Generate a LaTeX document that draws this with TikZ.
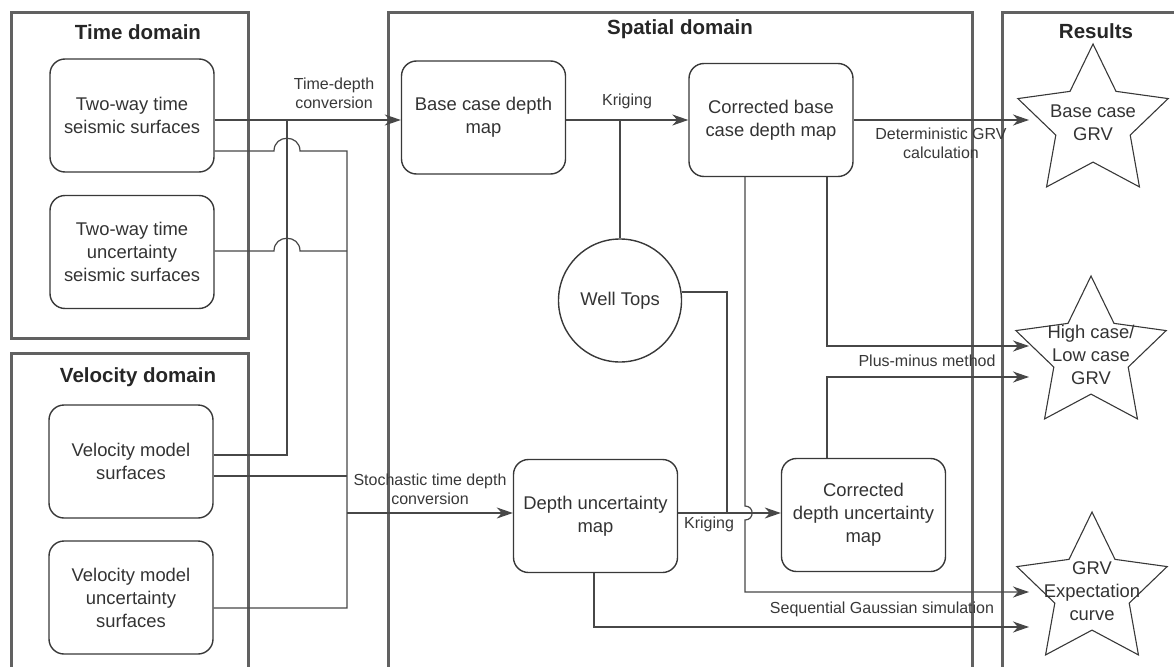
\documentclass[tikz,border=0pt]{standalone}
\usepackage{fontspec}
\setmainfont{Liberation Sans}
\usetikzlibrary{arrows.meta}
\usetikzlibrary{shapes.geometric}

\begin{document}
\begin{tikzpicture}[
			     x=1pt, y=-1pt,
			     domainbox/.style={draw=black!62, line width=3pt},
			     title/.style={font=\bfseries\fontsize{20.5}{24}\selectfont, text=black!85},
			     proc/.style={draw=black!78, line width=1.4pt, rounded corners=15pt, minimum width=164pt, minimum height=113pt, align=center, inner sep=2pt, text=black!80, font=\fontsize{18.4}{23}\selectfont},
			     well/.style={circle, draw=black!78, line width=1.4pt, minimum size=123pt, inner sep=0pt, text=black!80, font=\fontsize{18.4}{23}\selectfont},
			     result/.style={star, star points=5, star point ratio=2.02, draw=black!78, line width=1.1pt, minimum size=158pt, inner sep=0pt},
			     restext/.style={align=center, inner sep=0pt, text=black!80, font=\fontsize{18.4}{23}\selectfont},
			     lbl/.style={align=center, inner sep=0pt, text=black!78, font=\fontsize{16}{19}\selectfont},
			     link/.style={draw=black!72, line width=1.2pt},
			     arr/.style={link, -{Stealth[length=16pt, width=11pt, inset=5pt]}}
			     ]
\useasboundingbox (0,0) rectangle (1174,666);
% domains
\draw[domainbox] (11,13) rectangle (248,338);
\draw[domainbox] (11,353) rectangle (248,690);
\draw[domainbox] (388,13) rectangle (972,690);
\draw[domainbox] (1002,13) rectangle (1190,690);
\node[title] (ttime) at (138,32) {Time domain};
\node[title] (tvel) at (138,377) {Velocity domain};
\node[title] (tspat) at (680,29) {Spatial domain};
\node[title] (tres) at (1096,31) {Results};
%
\node[proc] (tws) at (132,115.5) {Two-way time\\seismic surfaces};
\node[proc] (twu) at (132,252) {Two-way time\\uncertainty\\seismic surfaces};
\node[proc] (vms) at (131,461.5) {Velocity model\\surfaces};
\node[proc] (vmu) at (131,597.5) {Velocity model\\uncertainty\\surfaces};
\node[proc] (bcd) at (483.5,117.5) {Base case depth\\map};
\node[proc] (cbcd) at (771,120) {Corrected base\\case depth map};
\node[well] (wt) at (620,300.5) {Well Tops};
\node[proc] (dum) at (595.5,516) {Depth uncertainty\\map};
\node[proc] (cdum) at (863.5,515) {Corrected\\depth uncertainty\\map};
%
\node[result] (rbase) at (1093,123) {};
\node[restext] (tbase) at (rbase.center) {Base case\\GRV};
\node[result] (rhigh) at (1091,355) {};
\node[restext] (thigh) at (rhigh.center) {High case/\\Low case\\GRV};
\node[result] (rexp) at (1092,591) {};
\node[restext] (texp) at (rexp.center) {GRV\\Expectation\\curve};
%
\coordinate (jt) at (287,120);
\coordinate (v1) at (287,455);
\coordinate (s1) at (347,151);
\coordinate (s4) at (347,251);
\coordinate (s5) at (347,476);
\coordinate (s3) at (347,513);
\coordinate (s2) at (347,608);
\coordinate (rin) at (1029,0);
\coordinate (w1) at (727,292);
\coordinate (h1) at (827,346);
\coordinate (h2) at (827,377);
\coordinate (g1) at (745,592);
\coordinate (g2) at (594,627);
% time-depth conversion
\draw[arr] (tws.east |- jt) -- (bcd.west |- jt);
\draw[link] (vms.east |- v1) -- (v1) -- (jt);
\node[lbl] (ltd) at (334,93) {Time-depth\\conversion};
% stochastic time depth conversion
\draw[link] (tws.east |- s1) -- (274,151) .. controls (274,134) and (300,134) .. (300,151) -- (s1) -- (s2) -- (vmu.east |- s2);
\draw[link] (twu.east |- s4) -- (274,251) .. controls (274,234) and (300,234) .. (300,251) -- (s4);
\draw[link] (vms.east |- s5) -- (s5);
\draw[arr] (s3) -- (dum.west |- s3);
\node[lbl] (lstoch) at (430,489) {Stochastic time depth\\conversion};
% kriging
\draw[arr] (bcd.east |- jt) -- (cbcd.west |- jt);
\draw[link] (wt.north) -- (wt.north |- jt);
\node[lbl] (lkt) at (627,101) {Kriging};
\draw[arr] (dum.east |- s3) -- (cdum.west |- s3);
\draw[link] (wt.east |- w1) -- (w1) -- (w1 |- s3);
\node[lbl] (lkb) at (709,524) {Kriging};
% results
\draw[arr] (cbcd.east) -- (cbcd.east -| rin);
\node[lbl] (ldet) at (941,143) {Deterministic GRV\\calculation};
\draw[arr] (cbcd.south -| h1) -- (h1) -- (h1 -| rin);
\draw[arr] (cdum.north -| h2) -- (h2) -- (h2 -| rin);
\node[lbl] (lpm) at (927,361) {Plus-minus method};
\draw[arr] (cbcd.south -| g1) -- (745,506) .. controls (754.5,506) and (754.5,520) .. (745,520) -- (g1) -- (g1 -| rin);
\draw[arr] (dum.south -| g2) -- (g2) -- (g2 -| rin);
\node[lbl] (lsgs) at (882,609) {Sequential Gaussian simulation};
\end{tikzpicture}
\end{document}
